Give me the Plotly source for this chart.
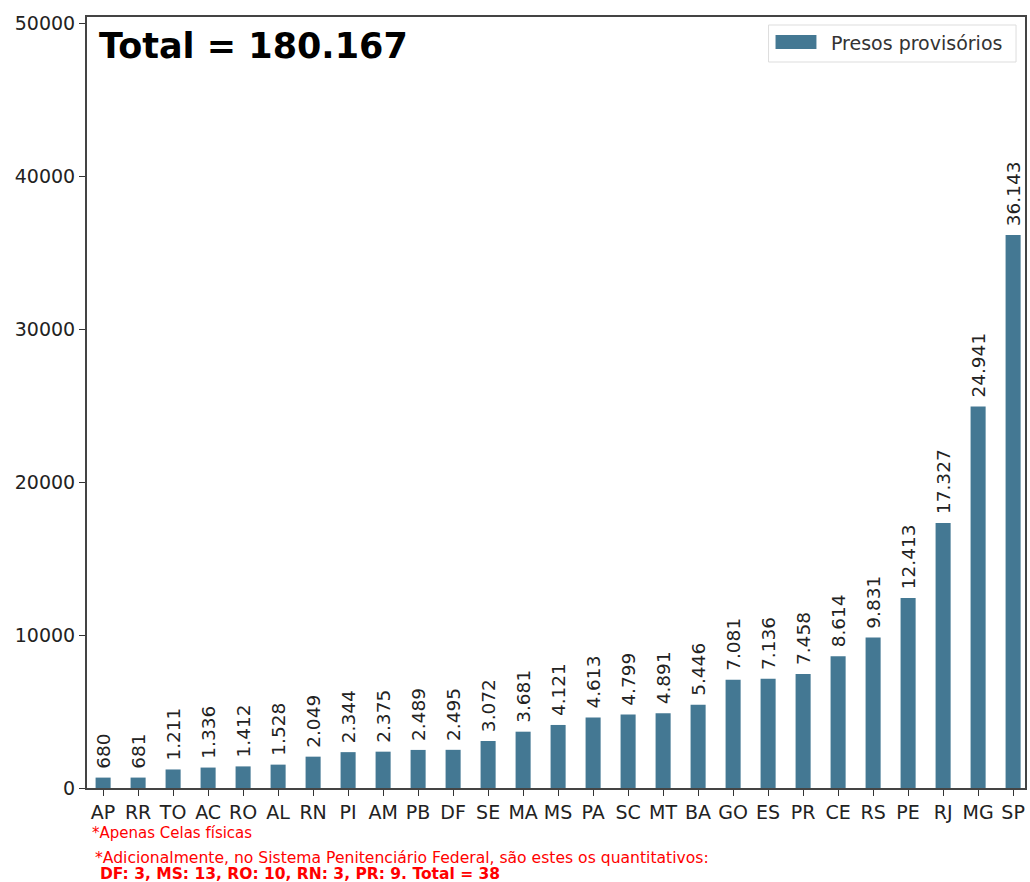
import plotly.graph_objects as go

estados = ["AP","RR","TO","AC","RO","AL","RN","PI","AM","PB","DF","SE","MA","MS","PA","SC","MT","BA","GO","ES","PR","CE","RS","PE","RJ","MG","SP"]
presos = [680,681,1211,1336,1412,1528,2049,2344,2375,2489,2495,3072,3681,4121,4613,4799,4891,5446,7081,7136,7458,8614,9831,12413,17327,24941,36143]
y_ticks = [0,10000,20000,30000,40000,50000]
serie_nome = "Presos provisórios"

labels = ["\u00a0" + f"{v:,}".replace(",", ".") for v in presos]
total = sum(presos)
BAR = "#447893"

# plot area in pixels: x 87..1027, y 17..788
L, R, T, B = 87, 1027, 17, 788
def px(x): return (x - L) / (R - L)
def py(y): return (B - y) / (B - T)

fig = go.Figure()
fig.add_trace(go.Bar(
    x=estados, y=presos, name=serie_nome,
    marker=dict(color=BAR, line=dict(width=0)),
    width=0.43,
    text=labels, textposition="outside", textangle=-90,
    textfont=dict(family="DejaVu Sans", size=18.5, color="#222"),
    cliponaxis=False, showlegend=False,
))

fig.update_layout(
    width=1030, height=882,
    margin=dict(l=L, r=1030 - R, t=T, b=882 - B),
    paper_bgcolor="white", plot_bgcolor="white",
    font=dict(family="DejaVu Sans", size=19, color="#222"),
    uniformtext=dict(minsize=18.5, mode="show"),
    showlegend=False,
)
fig.update_xaxes(range=[-0.46, len(estados) - 0.66], showline=True, linecolor="#444", linewidth=2,
                 mirror=True, ticks="outside", ticklen=6, tickcolor="#333",
                 tickfont=dict(size=19, color="#222"), showgrid=False)
fig.update_yaxes(range=[0, 50400], tickvals=y_ticks, tickformat="d", showline=True, linecolor="#444", linewidth=2,
                 mirror=True, ticks="outside", ticklen=6, tickcolor="#333",
                 tickfont=dict(size=19, color="#222"), showgrid=False, zeroline=False)

# legend box (custom, to match the wide patch)
fig.add_shape(type="rect", xref="paper", yref="paper",
              x0=px(770), x1=px(1018), y0=py(62), y1=py(25),
              line=dict(color="#ddd", width=1), fillcolor="rgba(255,255,255,0.9)")
fig.add_shape(type="rect", xref="paper", yref="paper",
              x0=px(777), x1=px(818), y0=py(49), y1=py(35),
              line=dict(width=0), fillcolor=BAR)
fig.add_annotation(text=serie_nome, xref="paper", yref="paper",
                   x=px(831), y=py(43), xanchor="left", yanchor="middle", showarrow=False,
                   font=dict(family="DejaVu Sans", size=19, color="#333"))

fig.add_annotation(text=f"<b>Total = {total:,}</b>".replace(",", "."), xref="paper", yref="paper",
                   x=px(97), y=py(24), xanchor="left", yanchor="top", showarrow=False,
                   font=dict(family="DejaVu Sans", size=35, color="black"))
fig.add_annotation(text="*Apenas Celas físicas", xref="paper", yref="paper",
                   x=px(90), y=py(822), xanchor="left", yanchor="top", showarrow=False,
                   font=dict(family="DejaVu Sans", size=15, color="red"))
fig.add_annotation(text="*Adicionalmente, no Sistema Penitenciário Federal, são estes os quantitativos:",
                   xref="paper", yref="paper",
                   x=px(93), y=py(847), xanchor="left", yanchor="top", showarrow=False,
                   font=dict(family="DejaVu Sans", size=15.6, color="red"))
fig.add_annotation(text="<b>DF: 3, MS: 13, RO: 10, RN: 3, PR: 9. Total = 38</b>",
                   xref="paper", yref="paper",
                   x=px(98), y=py(863), xanchor="left", yanchor="top", showarrow=False,
                   font=dict(family="DejaVu Sans", size=15.5, color="red"))

fig.write_html("out.html", config={"displayModeBar": False})
with open("out.html", encoding="utf-8") as f:
    html = f.read()
html = html.replace("<head>", "<head><style>html,body{margin:0;padding:0;overflow:hidden}</style>", 1)
with open("out.html", "w", encoding="utf-8") as f:
    f.write(html)
